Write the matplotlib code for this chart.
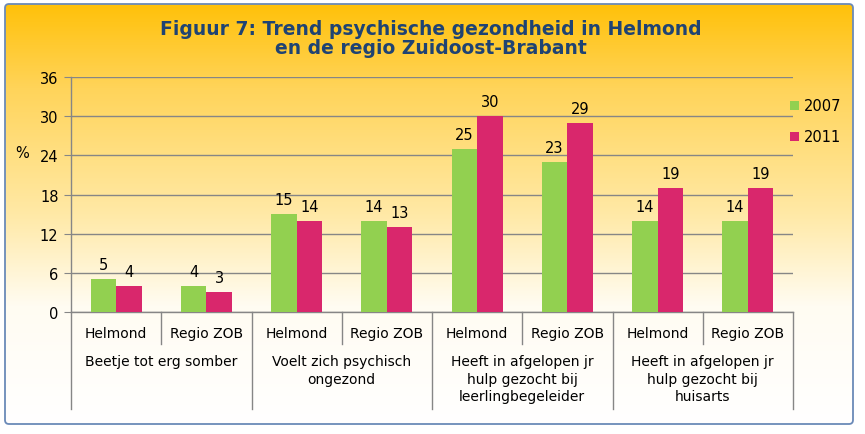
import numpy as np
import matplotlib.pyplot as plt
from matplotlib.patches import FancyBboxPatch
from matplotlib.colors import LinearSegmentedColormap

plt.rcParams["font.family"] = "DejaVu Sans"

title = "Figuur 7: Trend psychische gezondheid in Helmond\nen de regio Zuidoost-Brabant"
regions = ["Helmond", "Regio ZOB"] * 4
groups = ["Beetje tot erg somber",
          "Voelt zich psychisch\nongezond",
          "Heeft in afgelopen jr\nhulp gezocht bij\nleerlingbegeleider",
          "Heeft in afgelopen jr\nhulp gezocht bij\nhuisarts"]
years = ["2007", "2011"]
v2007 = [5, 4, 15, 14, 25, 23, 14, 14]
v2011 = [4, 3, 14, 13, 30, 29, 19, 19]
yticks = [0, 6, 12, 18, 24, 30, 36]

green = "#92D050"
magenta = "#D9276C"
grid_col = "#868686"
W, H = 865, 435

fig = plt.figure(figsize=(W / 100, H / 100), dpi=100)
fig.patch.set_facecolor("white")

# background gradient inside the rounded frame
bg = fig.add_axes([0, 0, 1, 1], zorder=-10)
bg.set_xlim(0, W)
bg.set_ylim(H, 0)
bg.axis("off")
cmap = LinearSegmentedColormap.from_list(
    "bg", [(0.0, "#FFC10A"), (0.2, "#FFD45A"), (0.5, "#FFE9A6"),
           (0.72, "#FFFCF2"), (1.0, "#FFFFFF")])
grad = np.linspace(0, 1, 256).reshape(-1, 1)
frame = FancyBboxPatch((5, 5), 848, 420, boxstyle="round,pad=0,rounding_size=4",
                       fc="none", ec="#6A8AB8", lw=1.3)
bg.add_patch(frame)
im = bg.imshow(grad, cmap=cmap, aspect="auto", extent=(5, 853, 425, 5))
im.set_clip_path(frame)

fig.text(431 / W, 1 - 39 / H, title, ha="center", va="center", fontsize=13.5,
         fontweight="bold", color="#1F4373", linespacing=1.05)

ax = fig.add_axes([71 / W, 1 - 313 / H, (793 - 71) / W, (313 - 78) / H])
ax.set_facecolor("none")
x = np.arange(len(regions))
bw = 0.283
ax.bar(x - bw / 2, v2007, bw, color=green, label=years[0], zorder=3)
ax.bar(x + bw / 2, v2011, bw, color=magenta, label=years[1], zorder=3)
for i in range(len(regions)):
    ax.annotate(str(v2007[i]), (x[i] - bw / 2, v2007[i]), xytext=(0, 5),
                textcoords="offset points", ha="center", va="bottom", fontsize=10.5)
    ax.annotate(str(v2011[i]), (x[i] + bw / 2, v2011[i]), xytext=(0, 5),
                textcoords="offset points", ha="center", va="bottom", fontsize=10.5)

ax.set_xlim(-0.5, len(regions) - 0.5)
ax.set_ylim(0, 36)
ax.set_yticks(yticks)
ax.tick_params(axis="y", labelsize=10.5, length=5, color=grid_col, pad=4)
ax.set_xticks([])
ax.yaxis.grid(True, color=grid_col, lw=1)
ax.set_axisbelow(True)
for s in ["top", "right"]:
    ax.spines[s].set_visible(False)
for s in ["left", "bottom"]:
    ax.spines[s].set_color(grid_col)
    ax.spines[s].set_linewidth(1)

fig.text(22 / W, 1 - 154 / H, "%", ha="center", va="center", fontsize=10.5)

# multi-level category axis
tr = ax.get_xaxis_transform()
ax_h = (313 - 78)
def ax_y(p):
    return -(p - 313) / ax_h

for i in range(len(regions) + 1):
    b = i - 0.5
    bottom = 410 if i % 2 == 0 else 345
    ax.plot([b, b], [0, ax_y(bottom)], transform=tr, color=grid_col, lw=1,
            clip_on=False)
for i, r in enumerate(regions):
    ax.text(x[i], ax_y(334), r, transform=tr, ha="center", va="center", fontsize=10)
for g, lab in enumerate(groups):
    ax.text(2 * g + 0.5, ax_y(355), lab, transform=tr, ha="center", va="top",
            fontsize=10, linespacing=1.32)

ax.legend(loc="upper left", bbox_to_anchor=(783 / W, 1 - 92 / H),
          bbox_transform=fig.transFigure, frameon=False, fontsize=10.5,
          handlelength=0.6, handleheight=0.6, handletextpad=0.3,
          labelspacing=1.1, borderpad=0)

fig.savefig("out.png", dpi=100)
